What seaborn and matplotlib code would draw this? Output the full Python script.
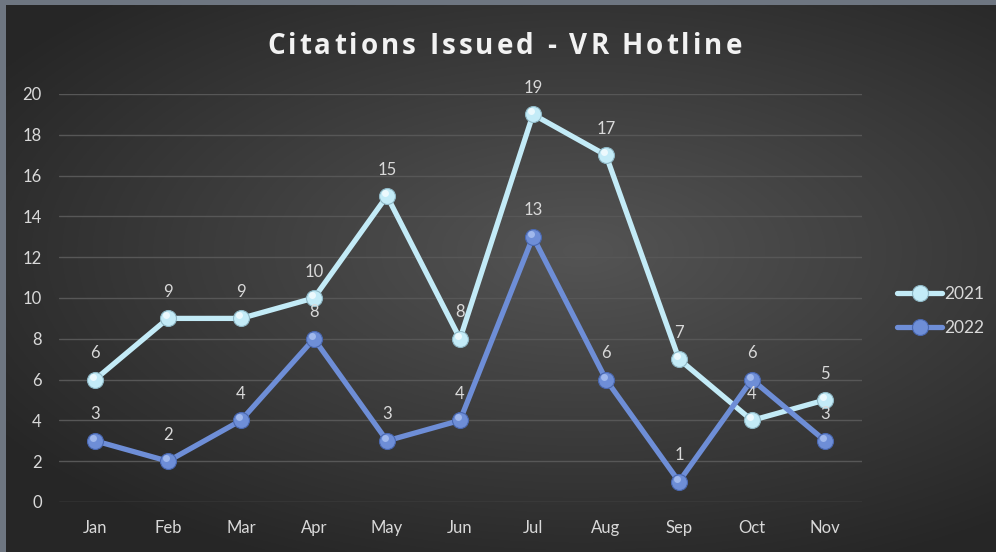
import numpy as np
import pandas as pd
import matplotlib
matplotlib.use("Agg")
import matplotlib.pyplot as plt
import seaborn as sns
from matplotlib.lines import Line2D

# data
months = ["Jan", "Feb", "Mar", "Apr", "May", "Jun", "Jul", "Aug", "Sep", "Oct", "Nov"]
y2021 = [6, 9, 9, 10, 15, 8, 19, 17, 7, 4, 5]
y2022 = [3, 2, 4, 8, 3, 4, 13, 6, 1, 6, 3]
years = ["2021", "2022"]
title = "Citations Issued - VR Hotline"
colors = {"2021": "#c3ebf7", "2022": "#6e8ed7"}
highlight = {"2021": "#f4fcff", "2022": "#a9c0f0"}
edges = {"2021": "#8fb8c6", "2022": "#4a68b0"}

df = pd.DataFrame({
    "Month": months * 2,
    "Year": ["2021"] * len(months) + ["2022"] * len(months),
    "Count": y2021 + y2022,
})
df["x"] = df["Month"].map({m: i for i, m in enumerate(months)})

sns.set_theme(style="dark")
plt.rcParams["font.family"] = ["Lato", "DejaVu Sans"]

W, H = 996, 552
fig = plt.figure(figsize=(W / 100, H / 100), dpi=100)
fig.patch.set_facecolor("#6e7681")

# dark radial gradient background
bg = fig.add_axes([6 / W, 0, 1 - 6 / W, 1 - 5 / H])
yy, xx = np.mgrid[0:1:300j, 0:1:500j]
r = np.sqrt(((xx - 0.58) / 0.9) ** 2 + ((yy - 0.55) / 0.8) ** 2)
val = np.clip(0.33 - 0.23 * r, 0.15, 0.33)
bg.imshow(np.dstack([val, val, val]), aspect="auto", extent=[0, 1, 0, 1], origin="lower")
bg.set_axis_off()

ax = fig.add_axes([58.5 / W, 1 - 502 / H, 803 / W, (502 - 94) / H])
ax.set_facecolor("none")

sns.lineplot(data=df, x="x", y="Count", hue="Year", palette=colors, linewidth=3.8,
             legend=False, ax=ax, zorder=3)

# glossy-looking markers and data labels
for yr, vals in zip(years, [y2021, y2022]):
    xs = np.arange(len(months))
    ax.plot(xs, vals, "o", ms=11.5, color=colors[yr], mec=edges[yr], mew=0.8, zorder=4)
    ax.plot(xs - 0.03, np.array(vals) + 0.15, "o", ms=5,
            color=highlight[yr], mec="none", alpha=0.85, zorder=5)
    for i, v in enumerate(vals):
        ax.annotate(str(v), (i, v), xytext=(0, 19), textcoords="offset points",
                    ha="center", va="center", fontsize=12, color="#d9d9d9", zorder=6)

ax.set_xlim(-0.5, len(months) - 0.5)
ax.set_ylim(0, 20)
ax.set_yticks(range(0, 21, 2))
ax.set_xticks(range(len(months)))
ax.set_xticklabels(months)
ax.set_xlabel("")
ax.set_ylabel("")
ax.grid(axis="y", color="#575757", linewidth=1)
ax.grid(axis="x", visible=False)
for s in ax.spines.values():
    s.set_visible(False)
ax.tick_params(axis="both", length=0, labelsize=12, colors="#d9d9d9")
ax.tick_params(axis="x", pad=13)
ax.tick_params(axis="y", pad=12)

# title with wide letter spacing, drawn one character at a time
renderer = fig.canvas.get_renderer()
tkw = dict(fontsize=20, fontweight="bold", color="#f2f2f2", family="Open Sans", va="center")
probe = fig.text(0, 0, "|", **tkw)
bar_w = probe.get_window_extent(renderer).width
offsets = []
for i in range(len(title) + 1):
    probe.set_text(title[:i] + "|")
    offsets.append(probe.get_window_extent(renderer).width - bar_w)
probe.remove()
target_w = 475
spacing = (target_w - offsets[-1]) / (len(title) - 1)
x0 = 504.5 - target_w / 2
for i, ch in enumerate(title):
    if ch != " ":
        fig.text((x0 + offsets[i] + i * spacing) / W, 1 - 46 / H, ch, ha="left", **tkw)

handles = [Line2D([0], [0], color=colors[y], lw=3.8, marker="o", ms=11.5,
                  mec=edges[y], mew=0.8) for y in years]
leg = fig.legend(handles, years, loc="center left", bbox_to_anchor=(890 / W, 1 - 311 / H),
                 frameon=False, fontsize=12.5, handlelength=2.6, handletextpad=0.1,
                 labelspacing=1.0, borderaxespad=0)
for t in leg.get_texts():
    t.set_color("#d9d9d9")

fig.savefig("out.png", dpi=100, facecolor=fig.get_facecolor())
